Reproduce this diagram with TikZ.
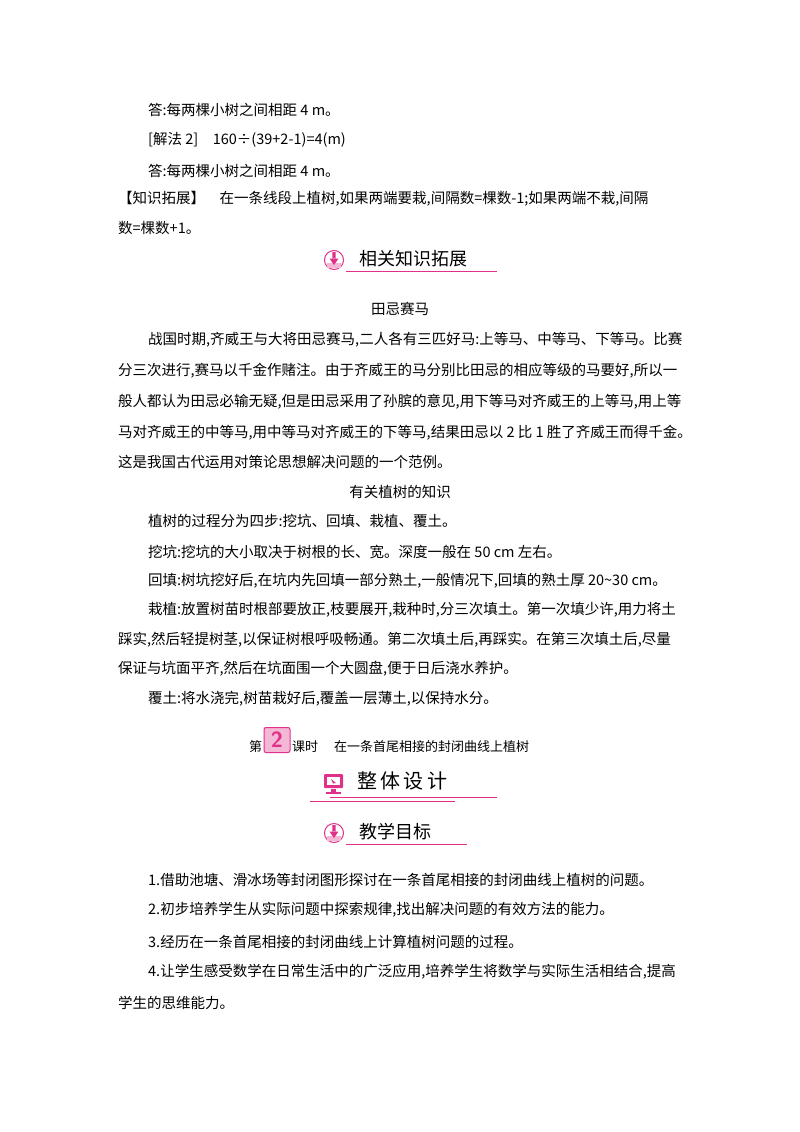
\documentclass[tikz,border=0pt]{standalone}
\usepackage{fontspec}
\setmainfont{Noto Sans CJK SC}
\definecolor{pk}{HTML}{E0308A}
\definecolor{pkl}{HTML}{F4B8D6}
\begin{document}
\begin{tikzpicture}[x=1pt,y=-1pt,
  tx/.style={anchor=west,inner sep=0pt,font=\fontsize{14.5}{15}\selectfont},
  ct/.style={anchor=center,inner sep=0pt,font=\fontsize{14.5}{15}\selectfont},
  hd/.style={anchor=west,inner sep=0pt,font=\fontsize{18}{19}\selectfont},
  ul/.style={pk,line width=0.8pt},
  dn/.style={fill=pk}]
\useasboundingbox[fill=white] (0,0) rectangle (800,1132);
\node[tx] (l1) at (148,110) {答:每两棵小树之间相距 4 m。};
\node[tx] (l2) at (148,140) {[解法 2]\quad 160÷(39+2-1)=4(m)};
\node[tx] (l3) at (148,171) {答:每两棵小树之间相距 4 m。};
\node[tx] (l4) at (118,199) {【知识拓展】\quad 在一条线段上植树,如果两端要栽,间隔数=棵数-1;如果两端不栽,间隔};
\node[tx] (l5) at (118,228) {数=棵数+1。};
% header 1
\node[circle,draw=pk,line width=1pt,minimum size=19pt,inner sep=0pt] (i1) at (334,260) {};
\fill[pkl] (327,263) rectangle (341,268);
\fill[dn] (332.3,252) rectangle (335.7,259) (329.5,258.5) -- (338.5,258.5) -- (334,265) -- cycle;
\node[hd] (h1) at (359,259) {相关知识拓展};
\draw[ul] (346,271) -- (497,271);
\node[ct] (t1) at (400,309) {田忌赛马};
\node[tx] (p1) at (148,340) {战国时期,齐威王与大将田忌赛马,二人各有三匹好马:上等马、中等马、下等马。比赛};
\node[tx] (p2) at (118,371) {分三次进行,赛马以千金作赌注。由于齐威王的马分别比田忌的相应等级的马要好,所以一};
\node[tx] (p3) at (118,402) {般人都认为田忌必输无疑,但是田忌采用了孙膑的意见,用下等马对齐威王的上等马,用上等};
\node[tx] (p4) at (118,433) {马对齐威王的中等马,用中等马对齐威王的下等马,结果田忌以 2 比 1 胜了齐威王而得千金。};
\node[tx] (p5) at (118,462) {这是我国古代运用对策论思想解决问题的一个范例。};
\node[ct] (t2) at (400,492) {有关植树的知识};
\node[tx] (q1) at (148,521) {植树的过程分为四步:挖坑、回填、栽植、覆土。};
\node[tx] (q2) at (148,552) {挖坑:挖坑的大小取决于树根的长、宽。深度一般在 50 cm 左右。};
\node[tx] (q3) at (148,581) {回填:树坑挖好后,在坑内先回填一部分熟土,一般情况下,回填的熟土厚 20\char`~30 cm。};
\node[tx] (q4) at (148,610) {栽植:放置树苗时根部要放正,枝要展开,栽种时,分三次填土。第一次填少许,用力将土};
\node[tx] (q5) at (118,640) {踩实,然后轻提树茎,以保证树根呼吸畅通。第二次填土后,再踩实。在第三次填土后,尽量};
\node[tx] (q6) at (118,669) {保证与坑面平齐,然后在坑面围一个大圆盘,便于日后浇水养护。};
\node[tx] (q7) at (148,699) {覆土:将水浇完,树苗栽好后,覆盖一层薄土,以保持水分。};
% lesson title
\node[tx,font=\fontsize{13}{14}\selectfont] (d1) at (249,747) {第};
\node[draw=pk,fill=pkl,rounded corners=2pt,line width=1pt,minimum width=26pt,minimum height=25pt,inner sep=0pt,font=\sffamily\bfseries\fontsize{22}{22}\selectfont,text=pk] (n2) at (277,740) {2};
\node[tx,font=\fontsize{13}{14}\selectfont] (d2) at (292,747) {课时\quad\ 在一条首尾相接的封闭曲线上植树};
% header 2
\fill[pk,rounded corners=1pt] (324,774) rectangle (343,788);
\fill[white] (327,777) rectangle (340,785);
\fill[pk] (331,779) -- (336,783) -- (333,783.5) -- cycle;
\fill[pk] (331,789) rectangle (336,792);
\fill[pk] (326,792) rectangle (341,794);
\node[hd] (h2) at (357,781) {\fontsize{20}{21}\selectfont 整\,体\,设\,计};
\draw[ul] (330,797) -- (497,797);
\draw[ul] (310,801) -- (455,801);
% header 3
\node[circle,draw=pk,line width=1pt,minimum size=19pt,inner sep=0pt] (i3) at (334,833) {};
\fill[pkl] (327,836) rectangle (341,841);
\fill[dn] (332.3,825) rectangle (335.7,832) (329.5,831.5) -- (338.5,831.5) -- (334,838) -- cycle;
\node[hd] (h3) at (359,832) {教学目标};
\draw[ul] (346,844) -- (467,844);
\node[tx] (o1) at (148,880) {1.借助池塘、滑冰场等封闭图形探讨在一条首尾相接的封闭曲线上植树的问题。};
\node[tx] (o2) at (148,910) {2.初步培养学生从实际问题中探索规律,找出解决问题的有效方法的能力。};
\node[tx] (o3) at (148,942) {3.经历在一条首尾相接的封闭曲线上计算植树问题的过程。};
\node[tx] (o4) at (148,972) {4.让学生感受数学在日常生活中的广泛应用,培养学生将数学与实际生活相结合,提高};
\node[tx] (o5) at (118,1003) {学生的思维能力。};
\end{tikzpicture}
\end{document}
